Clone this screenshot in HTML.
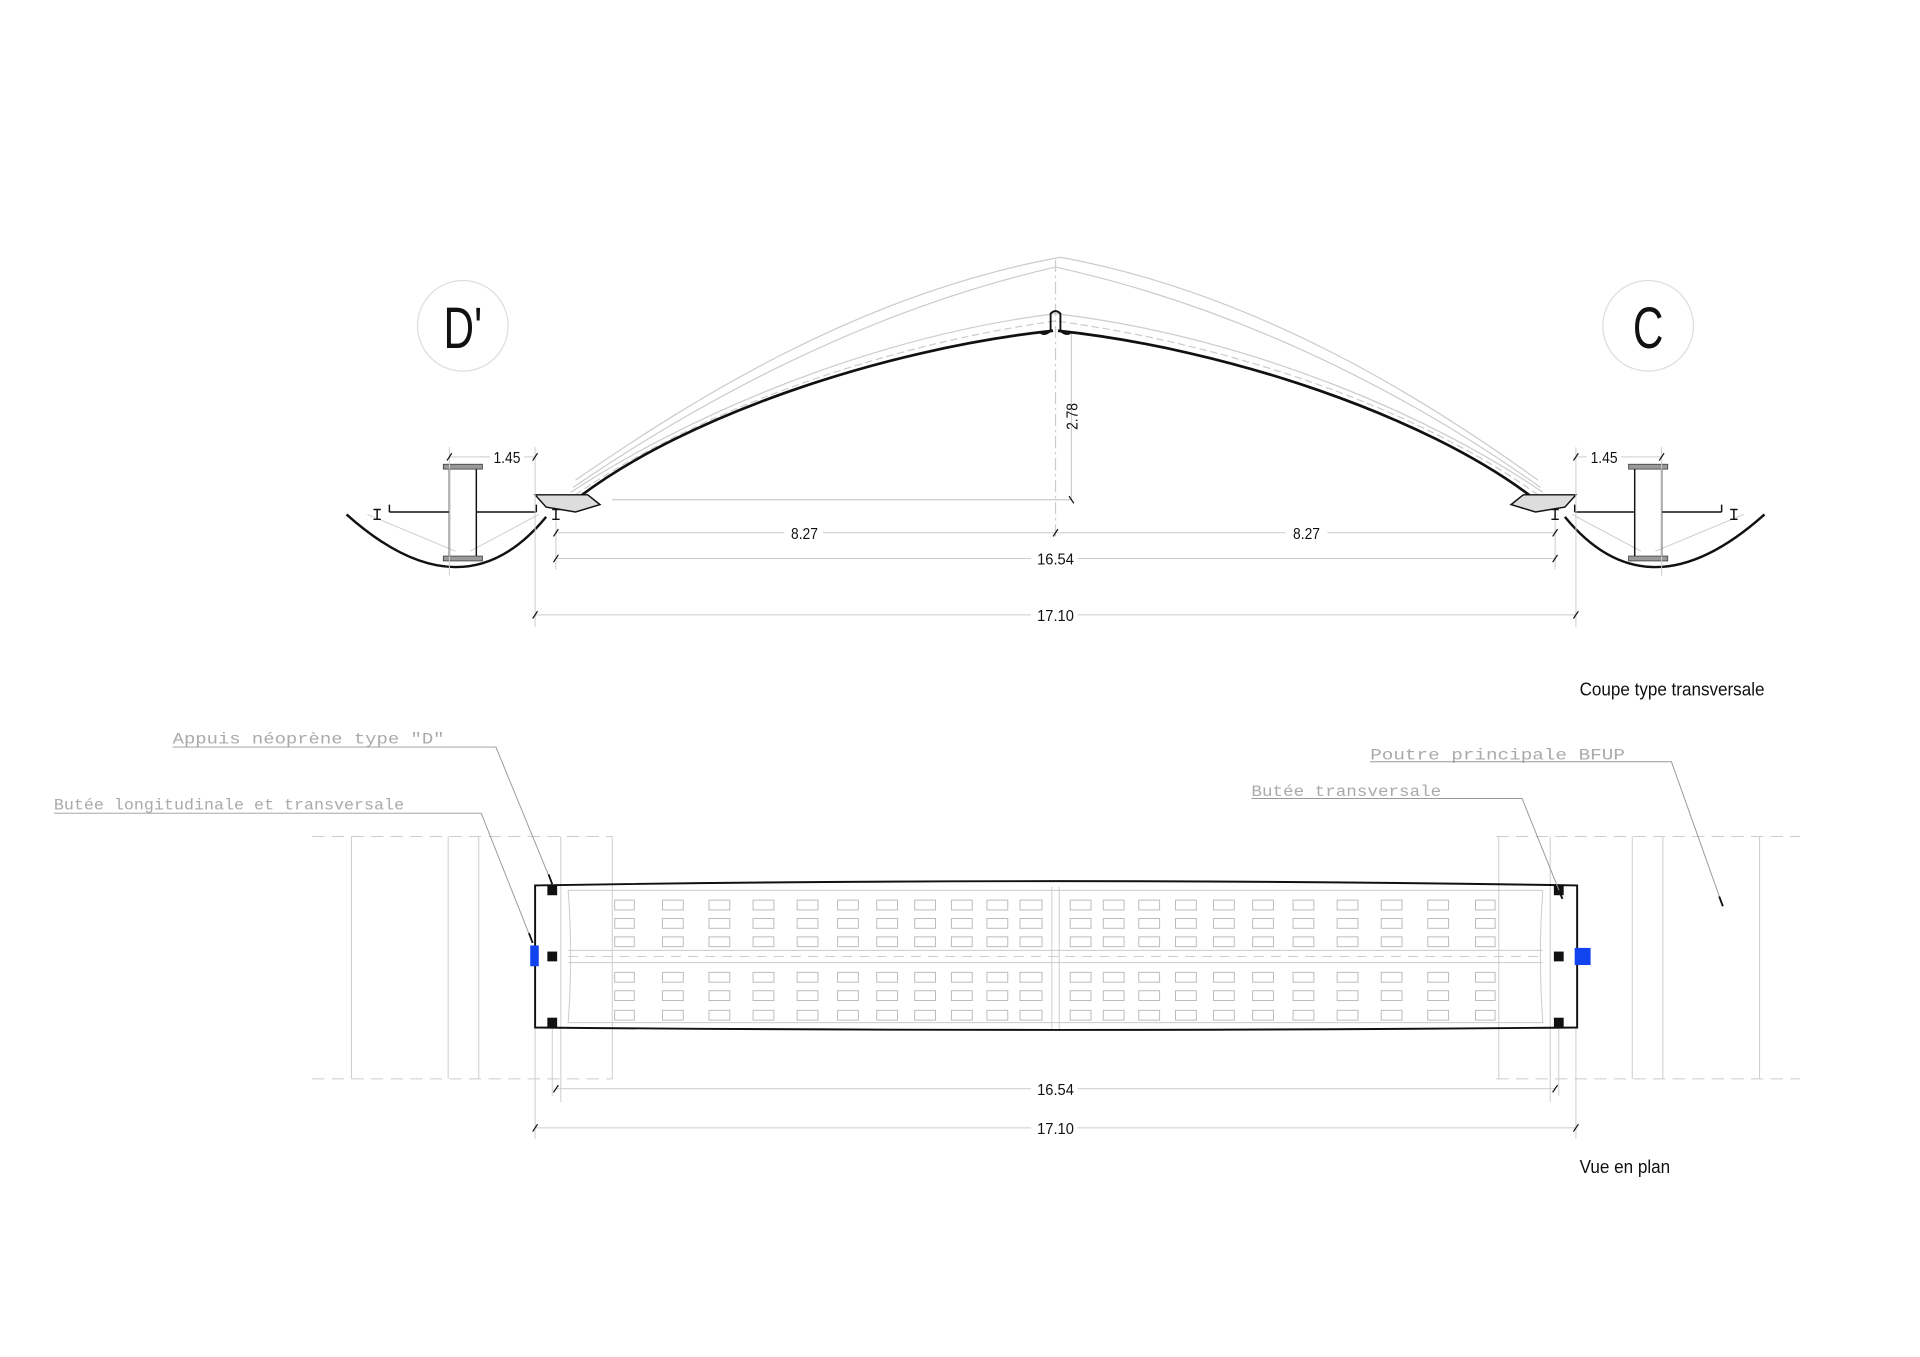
<!DOCTYPE html>
<html><head><meta charset="utf-8"><style>
html,body{margin:0;padding:0;background:#fff}
svg{display:block}
.t{font-family:"Liberation Sans Narrow","Liberation Sans",sans-serif;fill:#111}
.m{font-family:"Liberation Mono","DejaVu Sans Mono",monospace;fill:#aaa;font-size:13px}
</style></head><body>
<svg width="1920" height="1357" viewBox="0 0 1568 1108" xmlns="http://www.w3.org/2000/svg">
<defs>
<g id="row">
<g fill="none" stroke="#bbb" stroke-width="0.8">
<rect x="502" y="0" width="16" height="8"/><rect x="541" y="0" width="17" height="8"/><rect x="579" y="0" width="17" height="8"/><rect x="615" y="0" width="17" height="8"/><rect x="651" y="0" width="17" height="8"/><rect x="684" y="0" width="17" height="8"/><rect x="716" y="0" width="17" height="8"/><rect x="747" y="0" width="17" height="8"/><rect x="777" y="0" width="17" height="8"/><rect x="806" y="0" width="17" height="8"/><rect x="833" y="0" width="18" height="8"/>
<rect x="874" y="0" width="17" height="8"/><rect x="901" y="0" width="17" height="8"/><rect x="930" y="0" width="17" height="8"/><rect x="960" y="0" width="17" height="8"/><rect x="991" y="0" width="17" height="8"/><rect x="1023" y="0" width="17" height="8"/><rect x="1056" y="0" width="17" height="8"/><rect x="1092" y="0" width="17" height="8"/><rect x="1128" y="0" width="17" height="8"/><rect x="1166" y="0" width="17" height="8"/><rect x="1205" y="0" width="16" height="8"/>
</g></g>
</defs>

<!-- circles -->
<circle cx="378" cy="266" r="37" fill="none" stroke="#ddd" stroke-width="1"/>
<text transform="translate(378,284) scale(0.72,1)" text-anchor="middle" class="t" font-size="48">D'</text>
<circle cx="1346" cy="266" r="37" fill="none" stroke="#ddd" stroke-width="1"/>
<text transform="translate(1346,284) scale(0.72,1)" text-anchor="middle" class="t" font-size="48">C</text>

<!-- arch grey upper lines -->
<g fill="none" stroke="#ccc" stroke-width="1">
<path d="M470,392 C560,330 700,240 866,210 C1030,240 1170,330 1256,392"/>
<path d="M468,398 C560,335 700,255 862,218 C1030,255 1170,335 1258,398"/>
<path d="M466,402 C560,340 710,275 862,256 C1020,275 1170,340 1260,402"/>
<path d="M470,404 C570,335 720,282 862,262 C1010,282 1160,335 1256,404" stroke-dasharray="6 3"/>
<line x1="862" y1="212" x2="862" y2="440" stroke-dasharray="10 3 2 3"/>
<line x1="500" y1="408" x2="875" y2="408"/>
<line x1="875" y1="272" x2="875" y2="408"/>
</g>
<!-- main arch -->
<g fill="none" stroke="#111" stroke-width="2.2">
<path d="M474,405 C560,340 720,285 860,270"/>
<path d="M864,270 C1004,285 1164,340 1250,405"/>
</g>
<path d="M858,270 L858,256 Q862,252 866,256 L866,270 Q870,274 874,272" fill="none" stroke="#111" stroke-width="1.5"/>
<path d="M858,270 Q854,274 850,272" fill="none" stroke="#111" stroke-width="1.5"/>
<!-- bearings -->
<path d="M437,404 L480,404 L490,412 L470,418 L446,414 Z" fill="#ddd" stroke="#111" stroke-width="1.2"/>
<path d="M1287,404 L1244,404 L1234,412 L1254,418 L1278,414 Z" fill="#ddd" stroke="#111" stroke-width="1.2"/>

<!-- U cables -->
<g fill="none" stroke="#111" stroke-width="2">
<path d="M283,420 Q378,505 446,422"/>
<path d="M1441,420 Q1346,505 1278,422"/>
</g>
<g fill="none" stroke="#ccc" stroke-width="0.8">
<path d="M300,420 L372,450 M384,450 L440,420"/>
<path d="M1424,420 L1352,450 M1340,450 L1284,420"/>
</g>
<!-- columns -->
<g stroke="#111" stroke-width="1.2" fill="none">
<rect x="367" y="382" width="22" height="73"/><rect x="1335" y="382" width="22" height="73"/>
<line x1="318" y1="418" x2="367" y2="418"/><line x1="389" y1="418" x2="438" y2="418"/>
<line x1="318" y1="412" x2="318" y2="418"/><line x1="438" y1="412" x2="438" y2="418"/>
<line x1="1286" y1="418" x2="1335" y2="418"/><line x1="1357" y1="418" x2="1406" y2="418"/>
<line x1="1406" y1="412" x2="1406" y2="418"/><line x1="1286" y1="412" x2="1286" y2="418"/>
<path d="M305,416 h6 M308,416 v8 M305,424 h6 M451,416 h6 M454,416 v8 M451,424 h6 M1413,416 h6 M1416,416 v8 M1413,424 h6 M1267,416 h6 M1270,416 v8 M1267,424 h6"/>
</g>
<g fill="#999" stroke="#333" stroke-width="0.6">
<rect x="362" y="379" width="32" height="4"/><rect x="362" y="454" width="32" height="4"/>
<rect x="1330" y="379" width="32" height="4"/><rect x="1330" y="454" width="32" height="4"/>
</g>

<!-- dimensions section -->
<g stroke="#ccc" stroke-width="0.8" fill="none">
<line x1="367" y1="373" x2="400" y2="373"/><line x1="428" y1="373" x2="437" y2="373"/>
<line x1="1287" y1="373" x2="1296" y2="373"/><line x1="1324" y1="373" x2="1357" y2="373"/>
<line x1="454" y1="435" x2="640" y2="435"/><line x1="672" y1="435" x2="1050" y2="435"/><line x1="1084" y1="435" x2="1270" y2="435"/>
<line x1="454" y1="456" x2="842" y2="456"/><line x1="880" y1="456" x2="1270" y2="456"/>
<line x1="437" y1="502" x2="842" y2="502"/><line x1="880" y1="502" x2="1287" y2="502"/>
<line x1="437" y1="365" x2="437" y2="512"/><line x1="1287" y1="365" x2="1287" y2="512"/>
<line x1="454" y1="425" x2="454" y2="465"/><line x1="1270" y1="425" x2="1270" y2="465"/>
<line x1="367" y1="365" x2="367" y2="470"/><line x1="1357" y1="365" x2="1357" y2="470"/>
</g>
<g stroke="#111" stroke-width="1">
<path d="M365,376 l4,-6 M435,376 l4,-6 M1285,376 l4,-6 M1355,376 l4,-6 M452,438 l4,-6 M860,438 l4,-6 M1268,438 l4,-6 M452,459 l4,-6 M1268,459 l4,-6 M435,505 l4,-6 M1285,505 l4,-6 M873,405 l4,6"/>
</g>
<g class="t" font-size="13" text-anchor="middle">
<text x="414" y="378" textLength="22" lengthAdjust="spacingAndGlyphs">1.45</text><text x="1310" y="378" textLength="22" lengthAdjust="spacingAndGlyphs">1.45</text>
<text x="657" y="440" textLength="22" lengthAdjust="spacingAndGlyphs">8.27</text><text x="1067" y="440" textLength="22" lengthAdjust="spacingAndGlyphs">8.27</text>
<text x="862" y="461" textLength="30" lengthAdjust="spacingAndGlyphs">16.54</text><text x="862" y="507" textLength="30" lengthAdjust="spacingAndGlyphs">17.10</text>
<text transform="translate(880,340) rotate(-90)" textLength="22" lengthAdjust="spacingAndGlyphs">2.78</text>
</g>
<text x="1290" y="568" class="t" font-size="15" textLength="151" lengthAdjust="spacingAndGlyphs">Coupe type transversale</text>

<!-- plan grey structure -->
<g stroke="#ccc" stroke-width="0.8" fill="none">
<line x1="255" y1="683" x2="500" y2="683" stroke-dasharray="10 6"/>
<line x1="255" y1="881" x2="500" y2="881" stroke-dasharray="10 6"/>
<line x1="1222" y1="683" x2="1470" y2="683" stroke-dasharray="10 6"/>
<line x1="1222" y1="881" x2="1470" y2="881" stroke-dasharray="10 6"/>
<path d="M287,683 V881 M366,683 V881 M391,683 V881 M458,683 V900 M500,683 V881"/>
<path d="M1437,683 V881 M1358,683 V881 M1333,683 V881 M1266,683 V900 M1224,683 V881"/>
<line x1="437" y1="840" x2="437" y2="930"/><line x1="1287" y1="840" x2="1287" y2="930"/>
<line x1="451" y1="840" x2="451" y2="895"/><line x1="1273" y1="840" x2="1273" y2="895"/>
<path d="M464,727 Q468,780 464,835 L1260,835 Q1256,780 1260,727 Z"/>
<line x1="464" y1="776" x2="1260" y2="776"/><line x1="464" y1="786" x2="1260" y2="786"/>
<line x1="464" y1="781" x2="1260" y2="781" stroke-dasharray="8 6"/>
<line x1="859" y1="724" x2="859" y2="840"/><line x1="865" y1="724" x2="865" y2="840"/>
</g>
<use href="#row" y="735"/><use href="#row" y="750"/><use href="#row" y="765"/>
<use href="#row" y="794"/><use href="#row" y="809"/><use href="#row" y="825"/>
<!-- plan outline -->
<path d="M437,723 Q862,716 1288,723 L1288,839 Q862,843 437,839 Z" fill="none" stroke="#111" stroke-width="1.6"/>
<g fill="#111">
<rect x="447" y="723" width="8" height="8"/><rect x="447" y="777" width="8" height="8"/><rect x="447" y="831" width="8" height="8"/>
<rect x="1269" y="723" width="8" height="8"/><rect x="1269" y="777" width="8" height="8"/><rect x="1269" y="831" width="8" height="8"/>
</g>
<rect x="433" y="772" width="7" height="17" fill="#1144ee"/>
<rect x="1286" y="774" width="13" height="14" fill="#1144ee"/>

<!-- labels -->
<g class="m">
<text x="141" y="607" textLength="222" lengthAdjust="spacingAndGlyphs">Appuis néoprène type "D"</text>
<text x="44" y="661" textLength="286" lengthAdjust="spacingAndGlyphs">Butée longitudinale et transversale</text>
<text x="1119" y="620" textLength="208" lengthAdjust="spacingAndGlyphs">Poutre principale BFUP</text>
<text x="1022" y="650" textLength="155" lengthAdjust="spacingAndGlyphs">Butée transversale</text>
</g>
<g stroke="#999" stroke-width="0.8" fill="none">
<path d="M141,610 H405 L451,722"/>
<path d="M44,664 H393 L435,770"/>
<path d="M1119,622 H1365 L1407,740"/>
<path d="M1022,652 H1243 L1276,734"/>
</g>
<g stroke="#111" stroke-width="1.5">
<path d="M448,714 L451,722 M432,762 L435,770 M1404,732 L1407,740 M1273,727 L1276,734"/>
</g>

<!-- plan dims -->
<g stroke="#ccc" stroke-width="0.8">
<line x1="454" y1="889" x2="842" y2="889"/><line x1="880" y1="889" x2="1270" y2="889"/>
<line x1="437" y1="921" x2="842" y2="921"/><line x1="880" y1="921" x2="1287" y2="921"/>
</g>
<g stroke="#111" stroke-width="1">
<path d="M452,892 l4,-6 M1268,892 l4,-6 M435,924 l4,-6 M1285,924 l4,-6"/>
</g>
<g class="t" font-size="13" text-anchor="middle">
<text x="862" y="894" textLength="30" lengthAdjust="spacingAndGlyphs">16.54</text><text x="862" y="926" textLength="30" lengthAdjust="spacingAndGlyphs">17.10</text>
</g>
<text x="1290" y="958" class="t" font-size="15" textLength="74" lengthAdjust="spacingAndGlyphs">Vue en plan</text>
</svg>
</body></html>
